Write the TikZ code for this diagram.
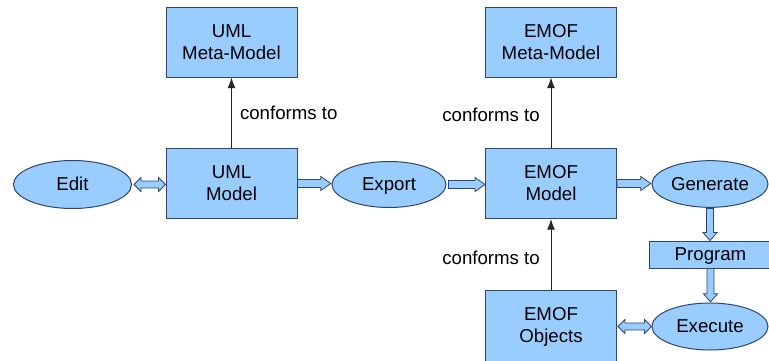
\documentclass[tikz,border=0pt]{standalone}
\usepackage{fontspec}
\setmainfont{Liberation Sans}
\usetikzlibrary{shapes.geometric,arrows.meta,calc}
\definecolor{fillc}{RGB}{153,204,255}
\definecolor{borderc}{RGB}{45,70,105}
\tikzset{
  box/.style={rectangle,draw=borderc,fill=fillc,line width=0.75pt,align=center,
    minimum width=98.25pt,minimum height=52.5pt,inner sep=0pt,
    text height=29.2pt,text depth=3pt,
    font=\fontsize{14}{16.5}\selectfont},
  onebox/.style={box,text height=12.7pt,text depth=3pt},
  oval/.style={ellipse,draw=borderc,fill=fillc,line width=0.75pt,inner sep=0pt,
    minimum width=87pt,minimum height=35pt,text height=12.7pt,text depth=3pt,
    font=\fontsize{14}{16.5}\selectfont},
  blk/.style={fill=fillc,draw=borderc,line width=0.6pt,line join=miter},
  conf/.style={draw=black!85,line width=0.75pt,-{Latex[length=8pt,width=6pt]}},
  lbl/.style={inner sep=0pt,text height=12.7pt,text depth=3pt,font=\fontsize{14}{16.5}\selectfont}
}
% single-headed horizontal block arrow
\newcommand\harrow[2]{%
  \path let \p1=(#1), \p2=(#2) in [blk]
    (\x1,\y1+3pt) -- (\x2-7.5pt,\y1+3pt) -- (\x2-7.5pt,\y1+5.25pt) -- (\x2,\y1)
    -- (\x2-7.5pt,\y1-5.25pt) -- (\x2-7.5pt,\y1-3pt) -- (\x1,\y1-3pt) -- cycle;}
% double-headed horizontal block arrow
\newcommand\hdarrow[2]{%
  \path let \p1=(#1), \p2=(#2) in [blk]
    (\x1,\y1) -- (\x1+5.25pt,\y1+5.25pt) -- (\x1+5.25pt,\y1+2.6pt)
    -- (\x2-5.25pt,\y1+2.6pt) -- (\x2-5.25pt,\y1+5.25pt) -- (\x2,\y1)
    -- (\x2-5.25pt,\y1-5.25pt) -- (\x2-5.25pt,\y1-2.6pt)
    -- (\x1+5.25pt,\y1-2.6pt) -- (\x1+5.25pt,\y1-5.25pt) -- cycle;}
% single-headed vertical block arrow (downwards)
\newcommand\varrow[2]{%
  \path let \p1=(#1), \p2=(#2) in [blk]
    (\x1+2.6pt,\y1) -- (\x1+2.6pt,\y2+6pt) -- (\x1+5.25pt,\y2+6pt) -- (\x1,\y2)
    -- (\x1-5.25pt,\y2+6pt) -- (\x1-2.6pt,\y2+6pt) -- (\x1-2.6pt,\y1) -- cycle;}
\begin{document}
\begin{tikzpicture}[x=0.75pt,y=-0.75pt]
\useasboundingbox (0,0) rectangle (769,361);
\clip (0,0) rectangle (769,361);
\fill[white] (0,0) rectangle (769,361);

\node[box] (umlmeta) at (231.5,42) {UML\\Meta-Model};
\node[box] (uml) at (231.5,183.5) {UML\\Model};
\node[oval,minimum width=88.5pt,minimum height=36pt] (edit) at (72.5,184.5) {Edit};
\node[oval,minimum width=85.5pt,minimum height=34.5pt] (export) at (389,184.5) {Export};
\node[box] (emofmeta) at (551,42) {EMOF\\Meta-Model};
\node[box] (emof) at (551,183.5) {EMOF\\Model};
\node[box,minimum height=60pt,yshift=0pt] (emofobj) at (551,330) {};
\node[box,draw=none,fill=none] (objtext) at (551,325.5) {EMOF\\Objects};
\node[oval] (generate) at (710,184) {Generate};
\node[onebox,minimum width=92.25pt,minimum height=20.25pt] (program) at (710.5,254.5) {Program};
\node[oval,minimum height=35.25pt] (execute) at (710,326.5) {Execute};

\draw[conf] (uml.north) -- node[lbl,midway,right=6pt] {conforms to} (umlmeta.south);
\draw[conf] (emof.north) -- node[lbl,midway,left=8pt,yshift=-1.5pt] {conforms to} (emofmeta.south);
\draw[conf] (emofobj.north) -- node[lbl,midway,left=8pt,yshift=-2.5pt] {conforms to} (emof.south);

\hdarrow{[xshift=1.5pt]edit.east}{uml.west}
\harrow{uml.east}{[xshift=-0.5pt]export.west}
\harrow{[xshift=1.5pt]export.east}{emof.west}
\harrow{emof.east}{[xshift=-0.5pt]generate.west}
\varrow{[yshift=-0.5pt]generate.south}{program.north}
\varrow{program.south}{[yshift=0.5pt]execute.north}
\hdarrow{[xshift=0.75pt]emofobj.east |- execute}{execute.west}
\end{tikzpicture}
\end{document}
